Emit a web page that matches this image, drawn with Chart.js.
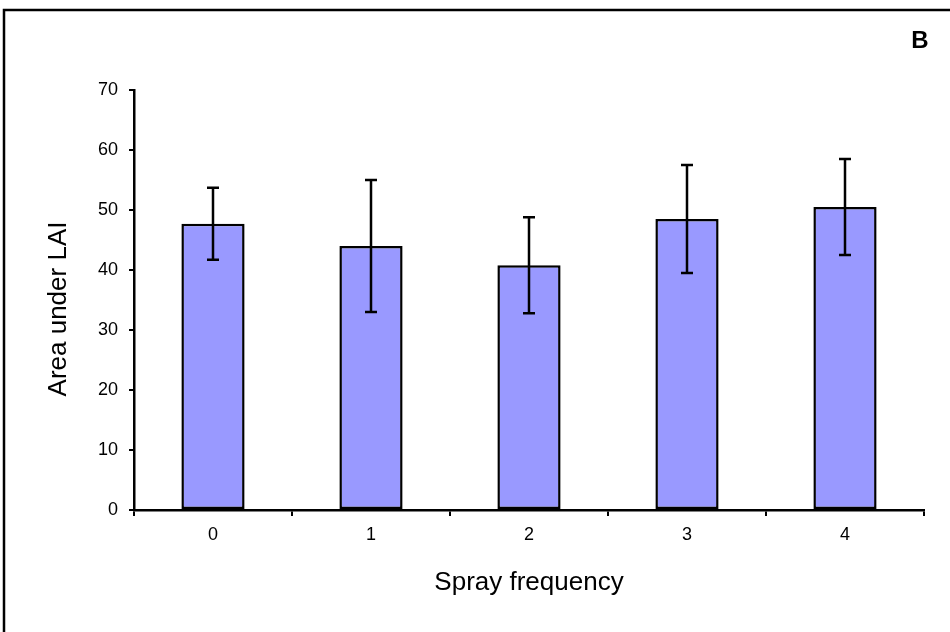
<!doctype html>
<html lang="en">
<head>
    <meta charset="UTF-8">
    <title>Area under LAI</title>
    <style>
        body { margin: 0; background: #fff; }
        canvas { display: block; }
    </style>
</head>
<body>
    <canvas id="my-chart" width="950" height="632"></canvas>
<script src="https://cdn.jsdelivr.net/npm/chart.js@4.4.1/dist/chart.umd.min.js"></script>
<script>

    let categories = ['0', '1', '2', '3', '4']
    let means = [47.7, 44.0, 40.8, 48.5, 50.5]
    let errors = [6.0, 11.0, 8.0, 9.0, 8.0]
    let panelLabel = 'B'
    let yTitle = 'Area under LAI'
    let xTitle = 'Spray frequency'

    let fontFamily = '"Liberation Sans", Arial, sans-serif'

    // frame round the figure, panel letter and y title
    let framePlugin = {
        id: 'frame',
        beforeDraw(chart) {
            let ctx = chart.ctx
            ctx.save()
            ctx.fillStyle = '#fff'
            ctx.fillRect(0, 0, chart.width, chart.height)
            ctx.strokeStyle = '#000'
            ctx.lineWidth = 2.5
            ctx.strokeRect(4, 10, chart.width + 20, chart.height + 20)
            ctx.restore()
        },
        afterDraw(chart) {
            let ctx = chart.ctx
            let area = chart.chartArea
            ctx.save()
            ctx.fillStyle = '#000'
            ctx.font = 'bold 24px ' + fontFamily
            ctx.textAlign = 'center'
            ctx.textBaseline = 'alphabetic'
            ctx.fillText(panelLabel, 920, 48)

            // y title, a bit below the middle of the axis like the original
            ctx.font = '26px ' + fontFamily
            ctx.textBaseline = 'middle'
            ctx.translate(59, (area.top + area.bottom) / 2 + 9)
            ctx.rotate(-Math.PI / 2)
            ctx.fillText(yTitle, 0, 0)
            ctx.restore()
        }
    }

    // error bars from the means/errors arrays
    let errorBarPlugin = {
        id: 'errorBars',
        afterDatasetsDraw(chart) {
            let ctx = chart.ctx
            let yScale = chart.scales.y
            let meta = chart.getDatasetMeta(0)
            ctx.save()
            ctx.strokeStyle = '#000'
            ctx.lineWidth = 2.5
            meta.data.forEach((bar, i) => {
                let top = yScale.getPixelForValue(means[i] + errors[i])
                let bottom = yScale.getPixelForValue(means[i] - errors[i])
                ctx.beginPath()
                ctx.moveTo(bar.x, top)
                ctx.lineTo(bar.x, bottom)
                ctx.moveTo(bar.x - 6, top)
                ctx.lineTo(bar.x + 6, top)
                ctx.moveTo(bar.x - 6, bottom)
                ctx.lineTo(bar.x + 6, bottom)
                ctx.stroke()
            })
            ctx.restore()
        }
    }

    let config = {
        type: 'bar',
        data: {
            labels: categories,
            datasets: [{
                data: means,
                backgroundColor: '#9999FF',
                borderColor: '#000',
                borderWidth: 2.5,
                borderSkipped: false,
                categoryPercentage: 1,
                barPercentage: 0.4
            }]
        },
        options: {
            responsive: false,
            animation: false,
            events: [],
            layout: {
                padding: { left: 0, top: 90, right: 26, bottom: 0 }
            },
            plugins: {
                legend: { display: false },
                tooltip: { enabled: false }
            },
            scales: {
                x: {
                    afterFit(scale) { scale.height = 122 },
                    grid: {
                        offset: true,
                        drawOnChartArea: false,
                        drawTicks: true,
                        tickLength: 6,
                        color: '#000',
                        lineWidth: 2
                    },
                    border: { display: true, color: '#000', width: 2.5 },
                    ticks: {
                        color: '#000',
                        padding: 8,
                        font: { family: fontFamily, size: 18 }
                    },
                    title: {
                        display: true,
                        text: xTitle,
                        color: '#000',
                        padding: { top: 0, bottom: 34 },
                        font: { family: fontFamily, size: 26 }
                    }
                },
                y: {
                    min: 0,
                    max: 70,
                    afterFit(scale) { scale.width = 134 },
                    grid: {
                        drawOnChartArea: false,
                        drawTicks: true,
                        tickLength: 5,
                        color: '#000',
                        lineWidth: 2
                    },
                    border: { display: true, color: '#000', width: 2.5 },
                    ticks: {
                        stepSize: 10,
                        color: '#000',
                        padding: 11,
                        font: { family: fontFamily, size: 18 }
                    }
                }
            }
        },
        plugins: [framePlugin, errorBarPlugin]
    }

    let myChart = new Chart(document.getElementById('my-chart'), config)

</script>
</body>
</html>
